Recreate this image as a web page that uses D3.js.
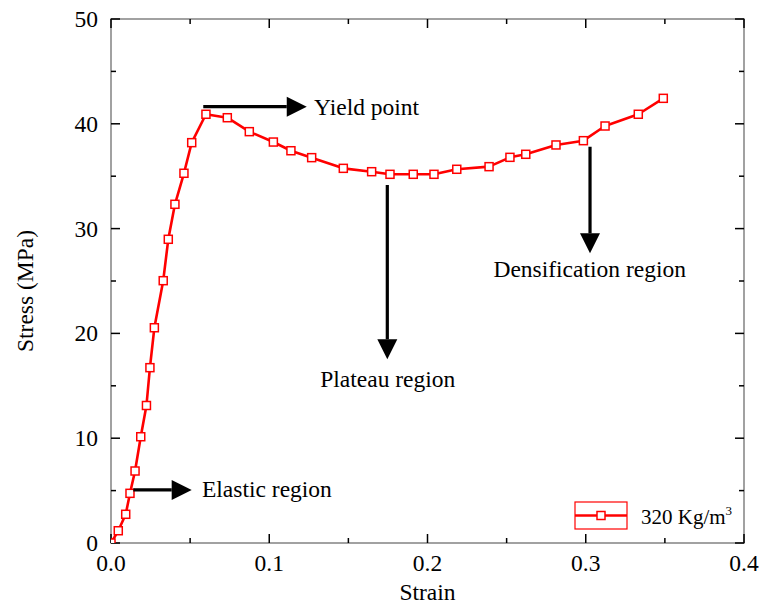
<!DOCTYPE html>
<html>
<head>
<meta charset="utf-8">
<script src="https://cdn.jsdelivr.net/npm/d3@7"></script>
<style>
  html, body { margin: 0; padding: 0; background: #fff; }
  svg { display: block; }
  text { font-family: "Liberation Serif", "Times New Roman", serif; fill: #000; }
</style>
</head>
<body>
<svg id="chart" width="762" height="606"></svg>
<script>
// ---- data ----
const strain = [0, 0.0046, 0.0093, 0.0120, 0.0152, 0.0188, 0.0224, 0.0246, 0.0274, 0.0330,
  0.0362, 0.0404, 0.0461, 0.0510, 0.0600, 0.0735, 0.0874, 0.1026, 0.1137, 0.1268,
  0.1468, 0.1647, 0.1763, 0.1910, 0.2041, 0.2185, 0.2389, 0.2521, 0.2621, 0.2812,
  0.2985, 0.3122, 0.3332, 0.3490];
const stress = [0, 1.17, 2.74, 4.74, 6.87, 10.14, 13.12, 16.73, 20.54, 25.03,
  28.98, 32.32, 35.28, 38.20, 40.91, 40.58, 39.25, 38.26, 37.43, 36.77,
  35.75, 35.43, 35.18, 35.18, 35.18, 35.66, 35.91, 36.80, 37.09, 37.98,
  38.39, 39.79, 40.91, 42.43];
const seriesName = "320 Kg/m";
const xTicks = [0, 0.1, 0.2, 0.3, 0.4];
const yTicks = [0, 10, 20, 30, 40, 50];
const xMinor = [0.05, 0.15, 0.25, 0.35];
const yMinor = [5, 15, 25, 35, 45];

const data = strain.map((s, i) => ({ x: s, y: stress[i] }));

// ---- layout ----
const svg = d3.select("#chart");
const L = 111, R = 744, T = 19, B = 543;
const x = d3.scaleLinear().domain([0, 0.4]).range([L, R]);
const y = d3.scaleLinear().domain([0, 50]).range([B, T]);
const FONT = 23.5;
const RED = "#ff0000";

// frame
svg.append("rect").attr("x", L).attr("y", T).attr("width", R - L).attr("height", B - T)
  .attr("fill", "none").attr("stroke", "#8a8a8a").attr("stroke-width", 1.6);

// ticks (inward, all four sides)
const tk = svg.append("g").attr("stroke", "#000").attr("stroke-width", 1.5);
xTicks.forEach(v => {
  tk.append("line").attr("x1", x(v)).attr("x2", x(v)).attr("y1", B).attr("y2", B - 9);
  tk.append("line").attr("x1", x(v)).attr("x2", x(v)).attr("y1", T).attr("y2", T + 9);
});
xMinor.forEach(v => {
  tk.append("line").attr("x1", x(v)).attr("x2", x(v)).attr("y1", B).attr("y2", B - 5);
  tk.append("line").attr("x1", x(v)).attr("x2", x(v)).attr("y1", T).attr("y2", T + 5);
});
yTicks.forEach(v => {
  tk.append("line").attr("y1", y(v)).attr("y2", y(v)).attr("x1", L).attr("x2", L + 9);
  tk.append("line").attr("y1", y(v)).attr("y2", y(v)).attr("x1", R).attr("x2", R - 9);
});
yMinor.forEach(v => {
  tk.append("line").attr("y1", y(v)).attr("y2", y(v)).attr("x1", L).attr("x2", L + 5);
  tk.append("line").attr("y1", y(v)).attr("y2", y(v)).attr("x1", R).attr("x2", R - 5);
});

// tick labels
svg.append("g").selectAll("text").data(xTicks).join("text")
  .attr("x", d => x(d)).attr("y", B + 28).attr("text-anchor", "middle")
  .attr("font-size", FONT).text(d => d3.format(".1f")(d));
svg.append("g").selectAll("text").data(yTicks).join("text")
  .attr("x", L - 13).attr("y", d => y(d) + 8).attr("text-anchor", "end")
  .attr("font-size", FONT).text(d => d);

// axis titles
svg.append("text").attr("x", (L + R) / 2).attr("y", 600).attr("text-anchor", "middle")
  .attr("font-size", FONT).text("Strain");
svg.append("text").attr("transform", `translate(33,${(T + B) / 2 + 10}) rotate(-90)`)
  .attr("text-anchor", "middle").attr("font-size", FONT).text("Stress (MPa)");

// clip
svg.append("clipPath").attr("id", "clip").append("rect")
  .attr("x", L).attr("y", T).attr("width", R - L).attr("height", B - T);

const plot = svg.append("g").attr("clip-path", "url(#clip)");
plot.append("path").datum(data)
  .attr("fill", "none").attr("stroke", RED).attr("stroke-width", 2.6)
  .attr("stroke-linejoin", "round")
  .attr("d", d3.line().x(d => x(d.x)).y(d => y(d.y)));
const MS = 8;
plot.selectAll("rect.m").data(data).join("rect").attr("class", "m")
  .attr("x", d => x(d.x) - MS / 2).attr("y", d => y(d.y) - MS / 2)
  .attr("width", MS).attr("height", MS)
  .attr("fill", "#fff").attr("stroke", RED).attr("stroke-width", 1.5);

// annotations (arrows in data coordinates)
function arrow(x1, y1, x2, y2) {
  const px1 = x(x1), py1 = y(y1), px2 = x(x2), py2 = y(y2);
  const ang = Math.atan2(py2 - py1, px2 - px1);
  const hl = 20, hw = 10;
  const bx = px2 - hl * Math.cos(ang), by = py2 - hl * Math.sin(ang);
  svg.append("line").attr("x1", px1).attr("y1", py1).attr("x2", bx).attr("y2", by)
    .attr("stroke", "#000").attr("stroke-width", 3.2);
  const nx = -Math.sin(ang), ny = Math.cos(ang);
  svg.append("path").attr("fill", "#000")
    .attr("d", `M${px2},${py2}L${bx + nx * hw},${by + ny * hw}L${bx - nx * hw},${by - ny * hw}Z`);
}
arrow(0.0583, 41.63, 0.1237, 41.63);
svg.append("text").attr("x", x(0.1283)).attr("y", y(40.84)).attr("font-size", FONT).text("Yield point");

arrow(0.0141, 5.06, 0.051, 5.06);
svg.append("text").attr("x", x(0.0575)).attr("y", y(4.39)).attr("font-size", FONT).text("Elastic region");

arrow(0.1746, 34.16, 0.1746, 17.53);
svg.append("text").attr("x", x(0.1749)).attr("y", y(14.91)).attr("text-anchor", "middle")
  .attr("font-size", FONT).text("Plateau region");

arrow(0.3027, 37.81, 0.3027, 27.64);
svg.append("text").attr("x", x(0.3025)).attr("y", y(25.41)).attr("text-anchor", "middle")
  .attr("font-size", FONT).text("Densification region");

// legend
const lg = svg.append("g");
lg.append("rect").attr("x", 575).attr("y", 502).attr("width", 52).attr("height", 27)
  .attr("fill", "none").attr("stroke", RED).attr("stroke-width", 1.2);
lg.append("line").attr("x1", 575).attr("x2", 627).attr("y1", 515.5).attr("y2", 515.5)
  .attr("stroke", RED).attr("stroke-width", 2.6);
lg.append("rect").attr("x", 601 - MS / 2).attr("y", 515.5 - MS / 2).attr("width", MS).attr("height", MS)
  .attr("fill", "#fff").attr("stroke", RED).attr("stroke-width", 1.5);
const lt = lg.append("text").attr("x", 641).attr("y", 524).attr("font-size", 21);
lt.append("tspan").text(seriesName);
lt.append("tspan").attr("font-size", 13).attr("dy", -9).text("3");
</script>
</body>
</html>
